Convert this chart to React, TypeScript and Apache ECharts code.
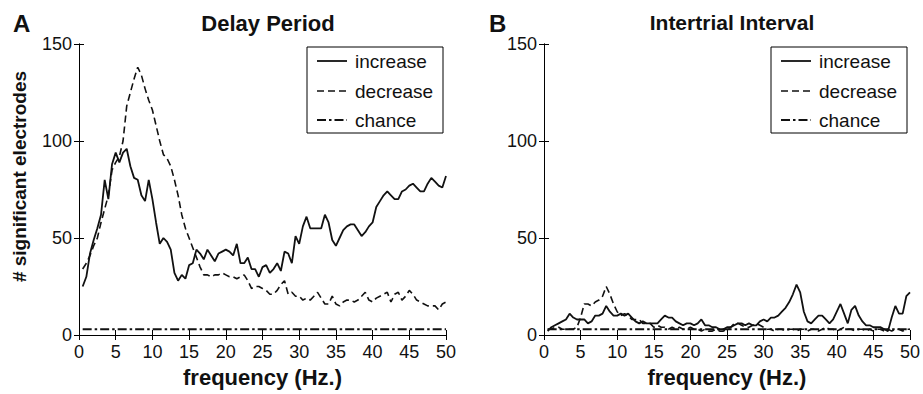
import React, { useEffect, useRef } from "react";
import * as echarts from "echarts";

const freqs = [
  0.5, 1, 1.5, 2, 2.5, 3, 3.5, 4, 4.5, 5, 5.5, 6, 6.5, 7, 7.5, 8, 8.5, 9, 9.5, 10,
  10.5, 11, 11.5, 12, 12.5, 13, 13.5, 14, 14.5, 15, 15.5, 16, 16.5, 17, 17.5, 18, 18.5, 19, 19.5, 20,
  20.5, 21, 21.5, 22, 22.5, 23, 23.5, 24, 24.5, 25, 25.5, 26, 26.5, 27, 27.5, 28, 28.5, 29, 29.5, 30,
  30.5, 31, 31.5, 32, 32.5, 33, 33.5, 34, 34.5, 35, 35.5, 36, 36.5, 37, 37.5, 38, 38.5, 39, 39.5, 40,
  40.5, 41, 41.5, 42, 42.5, 43, 43.5, 44, 44.5, 45, 45.5, 46, 46.5, 47, 47.5, 48, 48.5, 49, 49.5, 50,
];

const delayIncrease = [
  25, 30, 42, 49, 55, 62, 80, 70, 88, 94, 89, 94, 96, 87, 81, 80, 72, 69, 80, 70,
  58, 47, 50, 48, 44, 32, 28, 31, 29, 36, 37, 44, 42, 39, 44, 41, 38, 42, 43, 44,
  43, 41, 47, 37, 37, 40, 34, 34, 30, 35, 36, 32, 34, 37, 33, 43, 42, 37, 51, 47,
  56, 61, 55, 55, 55, 55, 62, 58, 49, 46, 50, 54, 56, 57, 57, 54, 51, 53, 56, 58,
  66, 69, 72, 74, 72, 70, 70, 74, 75, 77, 78, 76, 74, 74, 78, 81, 79, 77, 76, 82,
];

const delayDecrease = [
  34, 37, 41, 46, 50, 58, 65, 72, 85, 89, 92, 100, 118, 125, 132, 138, 134, 127, 121, 116,
  108, 100, 93, 91, 87, 80, 72, 62, 55, 50, 45, 40, 35, 31, 31, 30, 31, 31, 32, 31,
  30, 30, 29, 30, 31, 28, 24, 25, 25, 24, 23, 21, 21, 23, 26, 28, 21, 22, 20, 20,
  18, 19, 18, 20, 22, 19, 16, 16, 20, 16, 15, 17, 18, 18, 17, 18, 20, 22, 18, 17,
  19, 20, 21, 22, 17, 21, 22, 18, 20, 23, 21, 18, 17, 16, 15, 15, 15, 13, 16, 17,
];

const itiIncrease = [
  2, 4, 5, 6, 7, 8, 11, 9, 8, 8, 8, 6, 7, 10, 10, 11, 15, 12, 10, 10,
  11, 10, 11, 9, 7, 6, 7, 6, 6, 6, 6, 8, 10, 9, 9, 7, 6, 5, 6, 6,
  5, 6, 8, 5, 5, 4, 4, 3, 3, 4, 4, 5, 6, 6, 5, 6, 5, 5, 7, 8,
  7, 9, 9, 10, 12, 14, 17, 21, 26, 22, 12, 7, 6, 8, 10, 10, 8, 6, 8, 12,
  16, 11, 6, 13, 15, 10, 7, 5, 5, 4, 4, 4, 3, 2, 9, 15, 11, 11, 20, 22,
];

const itiDecrease = [
  3, 3, 4, 4, 3, 3, 3, 3, 4, 9, 16, 16, 15, 17, 18, 20, 25, 21, 16, 12,
  10, 11, 10, 8, 8, 8, 6, 6, 6, 4, 5, 4, 4, 3, 4, 3, 4, 3, 3, 4,
  3, 3, 2, 3, 2, 2, 3, 2, 2, 3, 4, 6, 6, 5, 4, 4, 5, 6, 5, 4,
  3, 3, 2, 3, 3, 2, 3, 3, 2, 3, 3, 2, 3, 3, 2, 3, 4, 3, 3, 2,
  3, 4, 3, 3, 2, 3, 3, 2, 3, 2, 3, 3, 2, 3, 2, 3, 3, 2, 3, 3,
];

const chanceFreqs = [0.5, 50];
const delayChance = [3, 3];
const itiChance = [3, 3];

const xTicks = [0, 5, 10, 15, 20, 25, 30, 35, 40, 45, 50];
const yTicks = [0, 50, 100, 150];
const seriesNames = ["increase", "decrease", "chance"];
const panelTitles = ["Delay Period", "Intertrial Interval"];
const panelLetters = ["A", "B"];

const FONT = "'Liberation Sans', Arial, Helvetica, sans-serif";

const pairs = (xs: number[], ys: number[]) => xs.map((x, i) => [x, ys[i]]);

export default function App() {
  const ref = useRef<HTMLDivElement>(null);

  useEffect(() => {
    if (!ref.current) return;
    const chart = echarts.init(ref.current, undefined, { renderer: "svg" });

    const grids = [
      { left: 79, top: 44, width: 367, height: 291 },
      { left: 544, top: 44, width: 367, height: 291 },
    ];

    const axisLine = { show: true, lineStyle: { color: "#000", width: 1 } };
    const tick = { show: true, inside: true, length: 5, lineStyle: { color: "#000", width: 1 } };

    const xAxes: any[] = [];
    const yAxes: any[] = [];
    [0, 1].forEach((g) => {
      xAxes.push({
        type: "value",
        gridIndex: g,
        min: xTicks[0],
        max: xTicks[xTicks.length - 1],
        interval: xTicks[1] - xTicks[0],
        position: "bottom",
        axisLine,
        axisTick: tick,
        splitLine: { show: false },
        axisLabel: { fontSize: 18, color: "#111", margin: 8, fontFamily: FONT },
        name: "frequency (Hz.)",
        nameLocation: "middle",
        nameGap: 31,
        nameTextStyle: { fontSize: 22, fontWeight: "bold", color: "#111", fontFamily: FONT },
      });
      xAxes.push({
        type: "value",
        gridIndex: g,
        min: xTicks[0],
        max: xTicks[xTicks.length - 1],
        interval: xTicks[1] - xTicks[0],
        position: "top",
        axisLine,
        axisTick: tick,
        splitLine: { show: false },
        axisLabel: { show: false },
      });
      yAxes.push({
        type: "value",
        gridIndex: g,
        min: yTicks[0],
        max: yTicks[yTicks.length - 1],
        interval: yTicks[1] - yTicks[0],
        position: "left",
        axisLine,
        axisTick: tick,
        splitLine: { show: false },
        axisLabel: { fontSize: 18, color: "#111", margin: 7, fontFamily: FONT },
        name: g === 0 ? "# significant electrodes" : "",
        nameLocation: "middle",
        nameGap: 50,
        nameTextStyle: {
          fontSize: 19,
          fontWeight: "bold",
          color: "#111",
          fontFamily: FONT,
          padding: [0, 0, 0, 26],
        },
      });
      yAxes.push({
        type: "value",
        gridIndex: g,
        min: yTicks[0],
        max: yTicks[yTicks.length - 1],
        interval: yTicks[1] - yTicks[0],
        position: "right",
        axisLine,
        axisTick: tick,
        splitLine: { show: false },
        axisLabel: { show: false },
      });
    });

    const solid = { color: "#111", width: 1.8, type: "solid" };
    const dashed = { color: "#111", width: 1.6, type: [7, 4] };
    const dashDot = { color: "#111", width: 2, type: [9, 3, 2.5, 3] };
    const styles = [solid, dashed, dashDot];

    const mk = (name: string, data: number[][], g: number, lineStyle: any) => ({
      name,
      type: "line",
      xAxisIndex: g * 2,
      yAxisIndex: g * 2,
      data,
      symbol: "none",
      showSymbol: false,
      lineStyle,
      itemStyle: { color: "#111" },
      silent: true,
    });

    const series = [
      mk(seriesNames[0], pairs(freqs, delayIncrease), 0, solid),
      mk(seriesNames[1], pairs(freqs, delayDecrease), 0, dashed),
      mk(seriesNames[2], pairs(chanceFreqs, delayChance), 0, dashDot),
      mk(seriesNames[0], pairs(freqs, itiIncrease), 1, solid),
      mk(seriesNames[1], pairs(freqs, itiDecrease), 1, dashed),
      mk(seriesNames[2], pairs(chanceFreqs, itiChance), 1, dashDot),
    ];

    const legendGraphic = (bx: number) => {
      const by = 47;
      const children: any[] = [
        {
          type: "rect",
          shape: { x: bx, y: by, width: 136, height: 86 },
          style: { fill: "#fff", stroke: "#000", lineWidth: 1 },
        },
      ];
      const rowsY = [61, 91, 120];
      seriesNames.forEach((n, i) => {
        const s = styles[i];
        children.push({
          type: "line",
          shape: { x1: bx + 10, y1: rowsY[i], x2: bx + 40, y2: rowsY[i] },
          style: {
            stroke: "#111",
            lineWidth: s.width,
            lineDash: Array.isArray(s.type) ? s.type : null,
          },
        });
        children.push({
          type: "text",
          x: bx + 48,
          y: rowsY[i],
          style: {
            text: n,
            fontSize: 19,
            fontFamily: FONT,
            fill: "#111",
            verticalAlign: "middle",
            align: "left",
          },
        });
      });
      return { type: "group", z: 100, children };
    };

    chart.setOption({
      animation: false,
      backgroundColor: "#fff",
      title: [
        { text: panelLetters[0], left: 8, top: 6, textStyle: { fontSize: 24, fontWeight: "bold", color: "#111", fontFamily: FONT } },
        { text: panelTitles[0], left: 263, top: 7, textAlign: "center", textStyle: { fontSize: 22, fontWeight: "bold", color: "#111", fontFamily: FONT } },
        { text: panelLetters[1], left: 484, top: 6, textStyle: { fontSize: 24, fontWeight: "bold", color: "#111", fontFamily: FONT } },
        { text: panelTitles[1], left: 727, top: 7, textAlign: "center", textStyle: { fontSize: 21, fontWeight: "bold", color: "#111", fontFamily: FONT } },
      ],
      grid: grids,
      xAxis: xAxes,
      yAxis: yAxes,
      series,
      graphic: [legendGraphic(307), legendGraphic(771)],
    });

    return () => chart.dispose();
  }, []);

  return (
    <div
      ref={ref}
      style={{ position: "absolute", left: 0, top: 0, width: 923, height: 394, background: "#fff" }}
    />
  );
}
